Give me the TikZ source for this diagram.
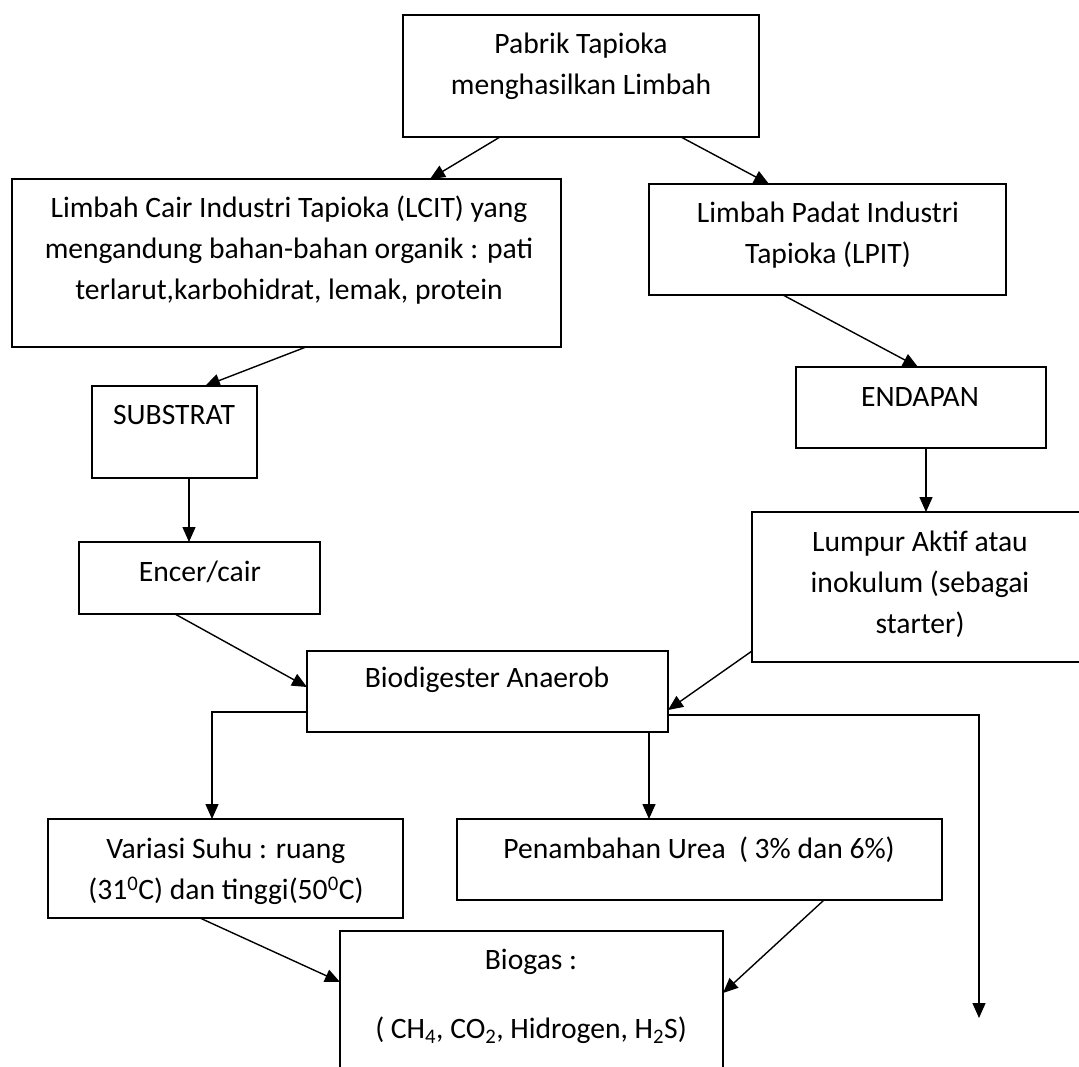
\documentclass[tikz,border=0pt]{standalone}
\usepackage{fontspec}
\setmainfont{Carlito}
\usetikzlibrary{arrows.meta}
\begin{document}
\begin{tikzpicture}[x=1pt,y=1pt,
  box/.style={draw, line width=1.8pt, anchor=north west, inner sep=0pt, outer sep=0pt},
  txt/.style={align=center, font=\fontsize{29.6}{41}\selectfont, inner sep=0pt},
  arr/.style={line width=1.4pt, -{Triangle[length=15pt,width=13pt]}}]
\clip (0,0) rectangle (1079,-1066);
\fill[white] (0,0) rectangle (1079,-1066);
% boxes
\node[box, minimum width=356pt, minimum height=122pt] (pab) at (403,-15) {};
\node[box, minimum width=549pt, minimum height=168pt] (lcit) at (12,-179) {};
\node[box, minimum width=357pt, minimum height=111pt] (lpit) at (649,-184) {};
\node[box, minimum width=165pt, minimum height=92pt] (sub) at (92,-386) {};
\node[box, minimum width=250pt, minimum height=81pt] (endp) at (796,-367) {};
\node[box, minimum width=241pt, minimum height=72pt] (enc) at (79,-542) {};
\node[box, minimum width=340pt, minimum height=150pt] (lum) at (752,-512) {};
\node[box, minimum width=361pt, minimum height=81pt] (bio) at (307,-651) {};
\node[box, minimum width=355pt, minimum height=99pt] (var) at (48,-819) {};
\node[box, minimum width=485pt, minimum height=81pt] (pen) at (457,-819) {};
\node[box, minimum width=383pt, minimum height=150pt] (gas) at (340,-931) {};
% texts
\node[txt] (pabt) at (581,-66) {Pabrik Tapioka\\menghasilkan Limbah};
\node[txt] (lcitt) at (289,-250) {Limbah Cair Industri Tapioka (LCIT) yang\\mengandung bahan-bahan organik : pati\\terlarut,karbohidrat, lemak, protein};
\node[txt] (lpitt) at (828,-235) {Limbah Padat Industri\\Tapioka (LPIT)};
\node[txt] (subt) at (174,-415) {SUBSTRAT};
\node[txt] (endpt) at (920,-397) {ENDAPAN};
\node[txt] (enct) at (200,-572) {Encer/cair};
\node[txt] (lumt) at (920,-584) {Lumpur Aktif atau\\inokulum (sebagai\\starter)};
\node[txt] (biot) at (487,-680) {Biodigester Anaerob};
\node[txt] (vart) at (226,-871) {Variasi Suhu : ruang\\(31\textsuperscript{0}C) dan tinggi(50\textsuperscript{0}C)};
\node[txt] (pent) at (699,-850) {Penambahan Urea\ \ ( 3\% dan 6\%)};
\node[txt] (gast1) at (531,-962) {Biogas :};
\node[txt] (gast2) at (531,-1030) {( CH\textsubscript{4}, CO\textsubscript{2}, Hidrogen, H\textsubscript{2}S)};
\coordinate (outend) at (979,-1018);
% connectors
\draw[arr] ([xshift=97pt]pab.south west) -- ([xshift=418pt]lcit.north west);
\draw[arr] ([xshift=278pt]pab.south west) -- ([xshift=120pt]lpit.north west);
\draw[arr] ([xshift=294pt]lcit.south west) -- ([xshift=113pt]sub.north west);
\draw[arr] ([xshift=134pt]lpit.south west) -- ([xshift=122pt]endp.north west);
\draw[arr] ([xshift=97pt]sub.south west) -- ([xshift=110pt]enc.north west);
\draw[arr] ([xshift=130pt]endp.south west) -- ([xshift=174pt]lum.north west);
\draw[arr] ([xshift=96pt]enc.south west) -- ([yshift=-36pt]bio.north west);
\draw[arr] ([yshift=-139pt]lum.north west) -- ([yshift=-59pt]bio.north east);
\draw[arr] ([yshift=-61pt]bio.north west) -| ([xshift=164pt]var.north west);
\draw[arr] ([xshift=342pt]bio.south west) -- ([xshift=192pt]pen.north west);
\draw[arr] ([yshift=-64pt]bio.north east) -| (outend);
\draw[arr] ([xshift=152pt]var.south west) -- ([yshift=-51pt]gas.north west);
\draw[arr] ([xshift=367pt]pen.south west) -- ([yshift=-62pt]gas.north east);
\end{tikzpicture}
\end{document}
